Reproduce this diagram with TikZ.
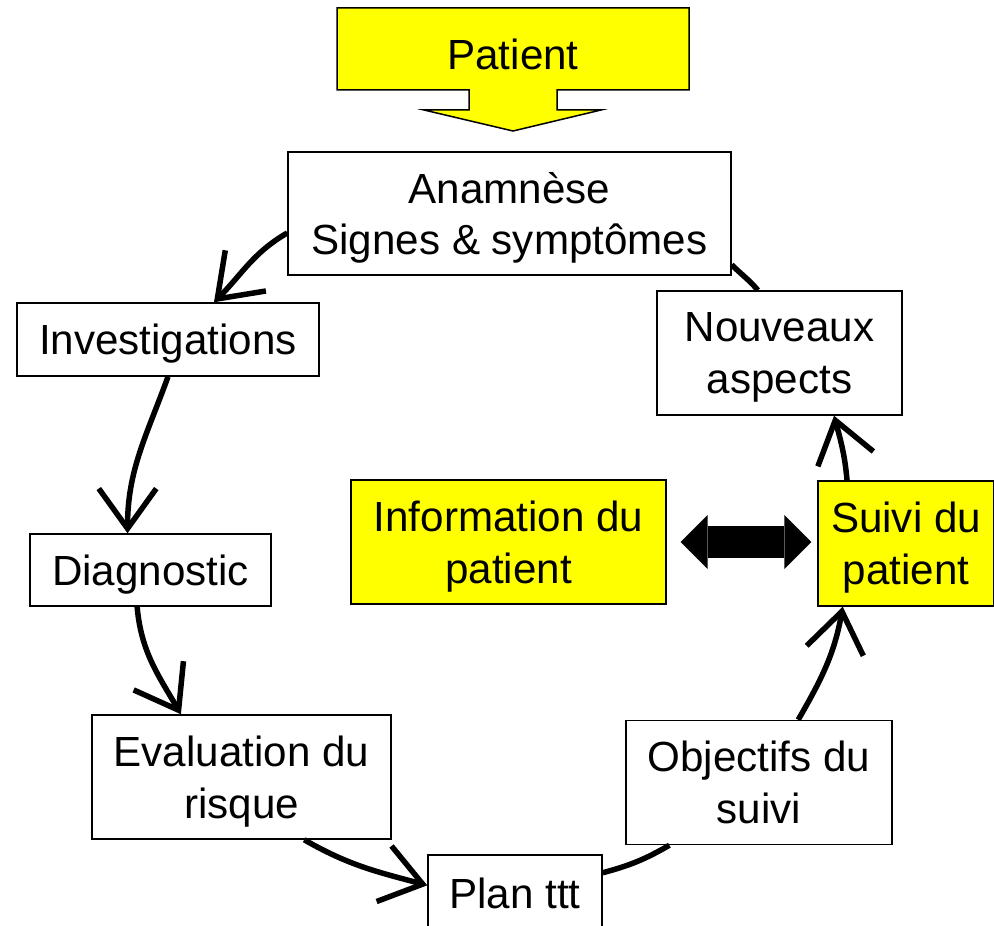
\documentclass[tikz,border=0pt]{standalone}
\usepackage{fontspec}
\setmainfont{Liberation Sans}
\usetikzlibrary{arrows.meta}
\definecolor{hlyellow}{RGB}{255,255,0}

\begin{document}
\begin{tikzpicture}[x=0.02cm, y=0.02cm,
        font=\fontsize{24}{29.5}\selectfont,
        box/.style = {draw, line width=0.03cm, fill=white, align=center, inner sep=0pt, text depth=0pt},
        hl/.style = {box, fill=hlyellow},
        link/.style = {line width=0.11cm, -{Straight Barb[length=0.8cm, width=1.15cm]}},
        plain/.style = {line width=0.11cm}]
        \useasboundingbox (0,0) rectangle (994,-926);
        \clip (0,0) rectangle (994,-926);
        % patient arrow
        \draw[line width=0.03cm, fill=hlyellow] (337,-8) -- (689,-8) -- (689,-90) -- (557,-90)
          -- (557,-110) -- (601,-110) -- (513,-131) -- (424,-110) -- (469,-110)
          -- (469,-90) -- (337,-90) -- cycle;
        \node[text depth=0pt] (patient) at (513,-54) {Patient};
        %
        \node[box, minimum width=8.86cm, minimum height=2.46cm] (anam) at (509.5,-213.5) {Anamnèse\\Signes \& symptômes};
        \node[box, minimum width=6.04cm, minimum height=1.46cm] (invest) at (168,-339.5) {Investigations};
        \node[box, minimum width=4.82cm, minimum height=1.44cm] (diag) at (150.5,-570) {Diagnostic};
        \node[box, minimum width=5.98cm, minimum height=2.48cm] (eval) at (241.5,-777) {Evaluation du\\risque};
        \node[box, minimum width=3.48cm, minimum height=1.52cm] (plan) at (515,-893) {Plan ttt};
        \node[box, minimum width=5.32cm, minimum height=2.48cm] (obj) at (759,-782.5) {Objectifs du\\suivi};
        \node[hl, minimum width=3.52cm, minimum height=2.50cm] (suivi) at (906,-543.5) {Suivi du\\patient};
        \node[hl, minimum width=6.30cm, minimum height=2.48cm] (info) at (508.5,-542) {Information du\\patient};
        \node[box, minimum width=4.90cm, minimum height=2.48cm] (nouv) at (779.5,-353) {Nouveaux\\aspects};
        %
        \draw[link] (anam.185) to[out=210, in=45] (invest.39);
        \draw[link] (invest.south) to[out=250, in=90] (diag.122);
        \draw[link] (diag.250) to[out=275, in=120] (eval.134);
        \draw[link] (eval.315) to[out=-30, in=165] (plan.175);
        \draw[plain] (plan.13) to[out=15, in=210] (obj.215);
        \draw[link] (obj.58) to[out=60, in=260] (suivi.225);
        \draw[link] (suivi.133) to[out=95, in=-75] (nouv.311);
        \draw[plain] (nouv.109) to[out=130, in=-45] (anam.347);
        %
        \draw[line width=0.64cm, {Triangle[length=0.54cm, width=1.08cm, line width=0pt]}-{Triangle[length=0.54cm, width=1.08cm, line width=0pt]},
          shorten <=0.28cm, shorten >=0.12cm] (info.east) -- (info.east -| suivi.west);
\end{tikzpicture}
\end{document}
